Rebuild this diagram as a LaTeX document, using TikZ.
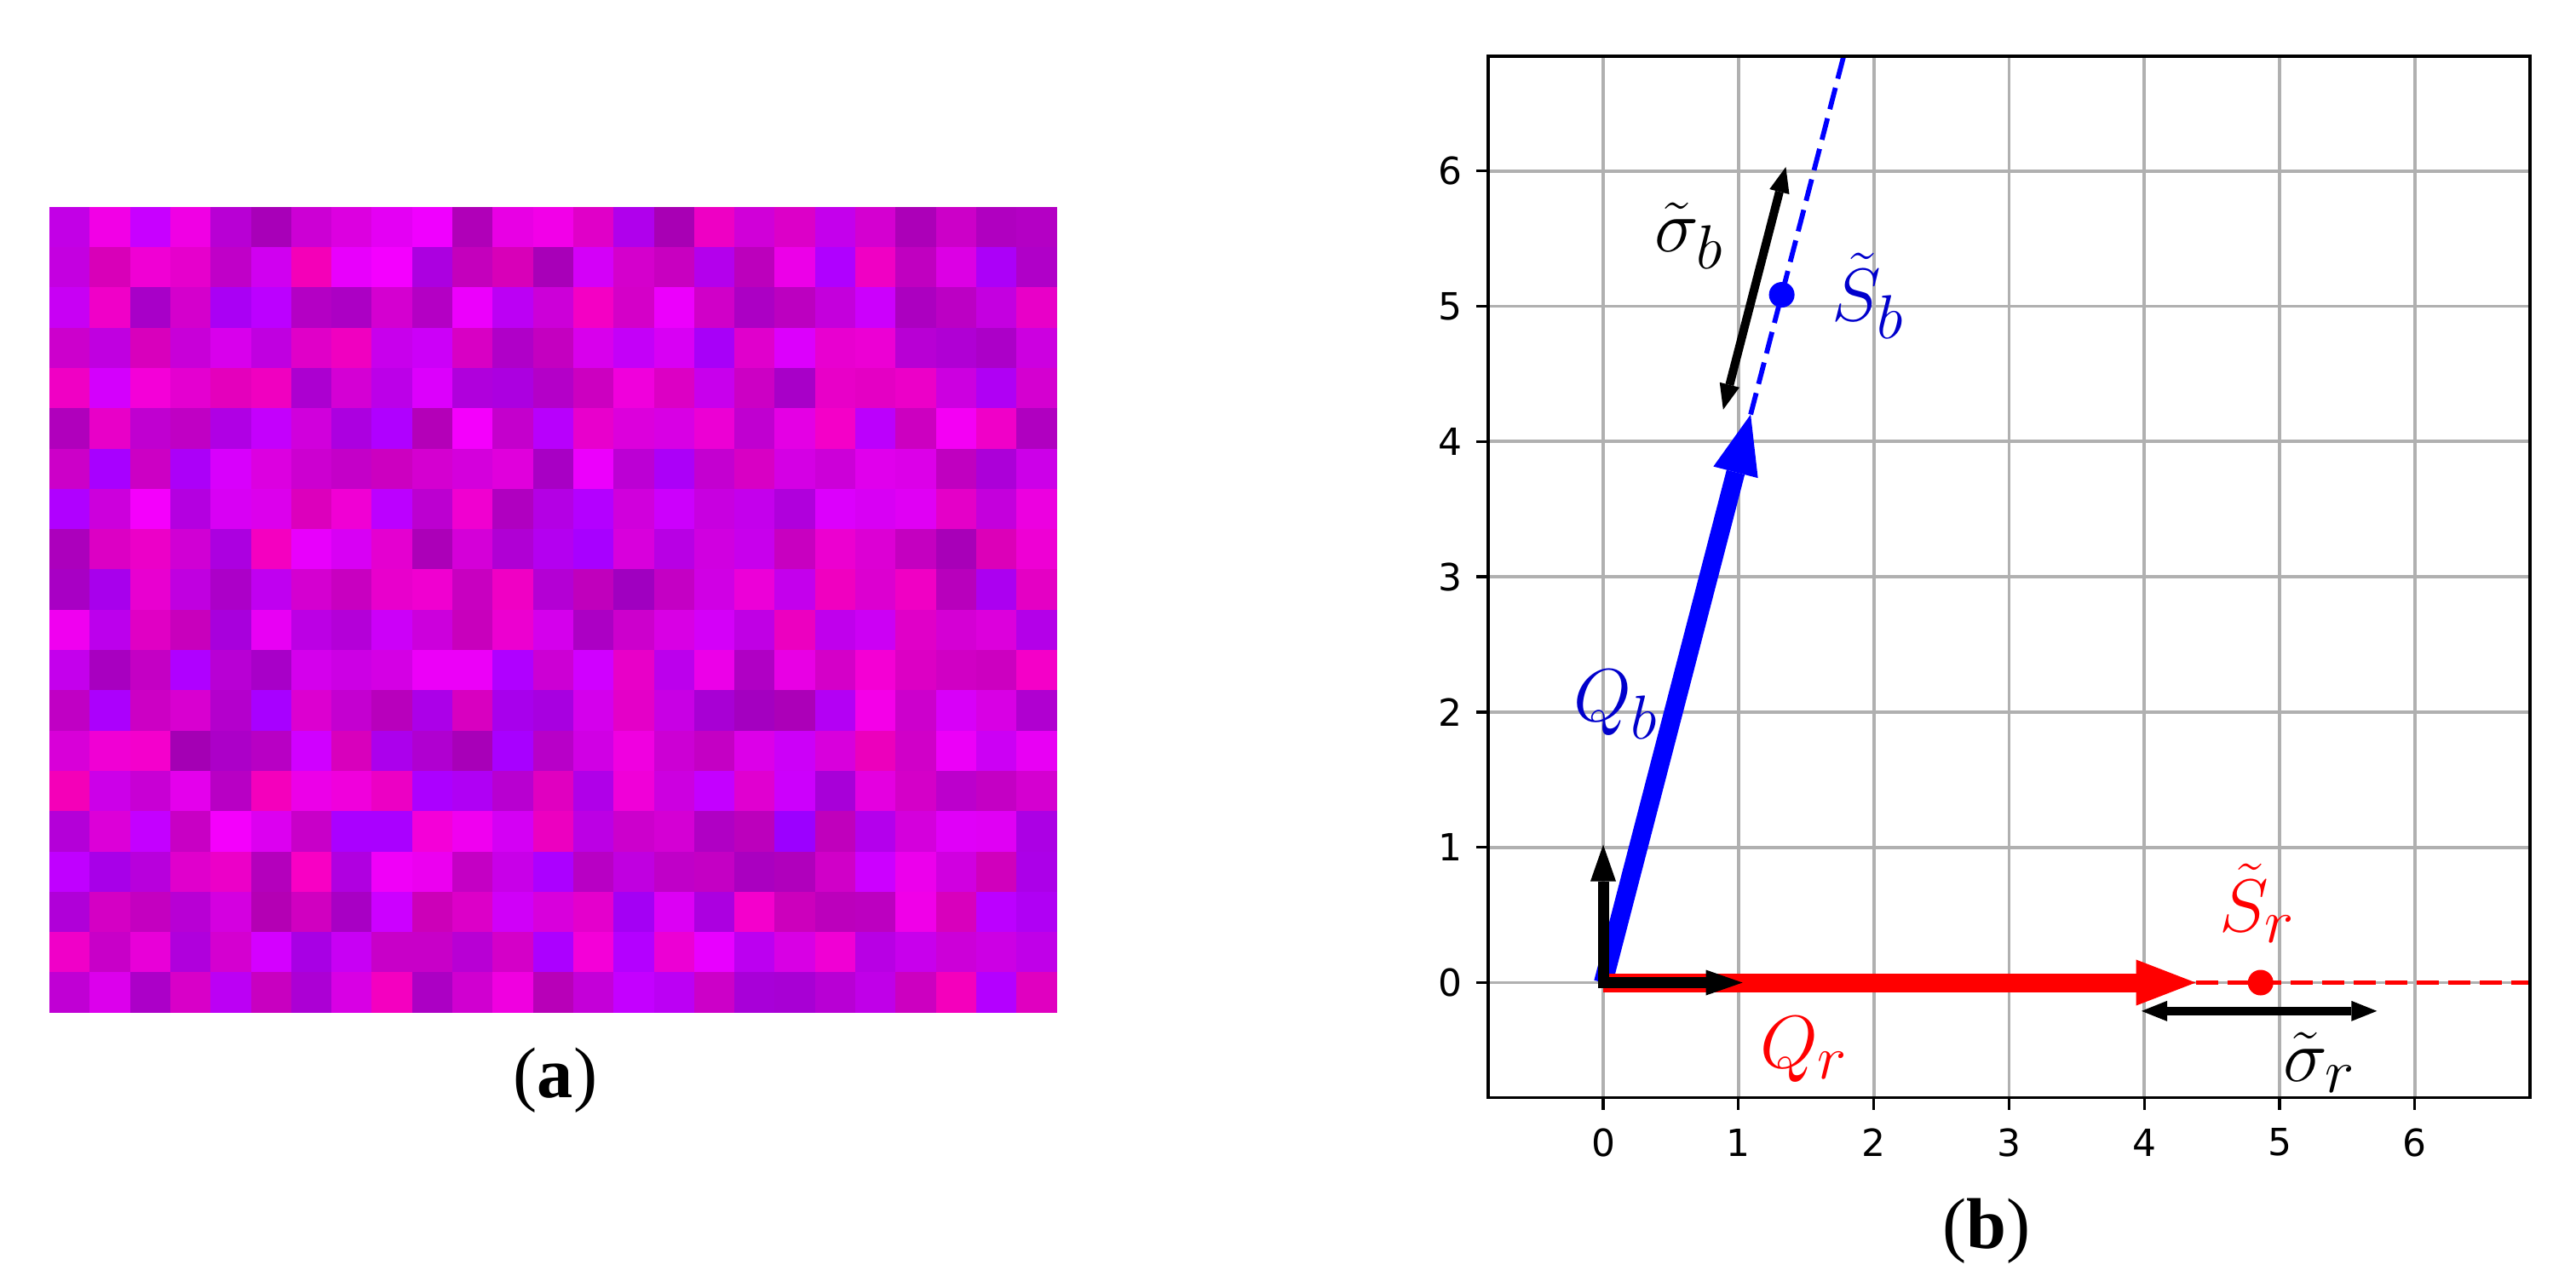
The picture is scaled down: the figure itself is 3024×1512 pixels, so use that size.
\documentclass[tikz,border=0pt]{standalone}
\usepackage{fontspec}
\usetikzlibrary{arrows.meta}
\newfontfamily\tickfont{DejaVu Sans}
\newfontfamily\capfont{Liberation Serif}
\definecolor{gridgray}{HTML}{B0B0B0}
\definecolor{lblue}{HTML}{0000CC}
\definecolor{pblue}{HTML}{0000FF}
\definecolor{pred}{HTML}{FF0000}
\tikzset{
  gridline/.style={gridgray, line width=0.038cm},
  frameline/.style={black, line width=0.035cm},
  tickline/.style={black, line width=0.033cm},
  ticklbl/.style={font=\tickfont\fontsize{12.5}{15}\selectfont, inner sep=0pt},
  mathlbl/.style={font=\fontsize{24.88}{30}\selectfont, inner sep=0pt},
  caplbl/.style={font=\capfont\fontsize{24}{28}\selectfont, inner sep=0pt},
  bigvec/.style={line width=0.22cm, -{Triangle[length=0.70cm,width=0.54cm,line width=0pt]}},
  basisvec/.style={black, line width=0.13cm, -{Triangle[length=0.43cm,width=0.30cm,line width=0pt]}},
  spreadvec/.style={black, line width=0.10cm, {Triangle[length=0.30cm,width=0.24cm,line width=0pt]}-{Triangle[length=0.30cm,width=0.24cm,line width=0pt]}},
  dashln/.style={line width=0.058cm, dash pattern=on 0.26cm off 0.11cm}
}
\begin{document}
\begin{tikzpicture}[x=0.01cm,y=-0.01cm]
\useasboundingbox (0,0) rectangle (3024,1512);
% ---------- panel (a): mosaic ----------
\foreach \rowlist [count=\ri from 0] in {%
{C200E6,F200E6,C800FF,F000E4,B800D4,A800B8,CC00D4,DC00E0,E400F4,F000FF,B000B8,E800E4,F200E8,E000C8,B000EC,A800B4,EE00C4,D000D8,DC00C8,C400EC,D400D0,AC00B8,CC00C8,B000C0,B400C4},%
{C400E0,D800B8,F000D4,E600CC,C000C8,D000F0,F400B8,E800FC,F400FF,AC00E0,C400BC,D800B8,A800B8,D400F8,D400CC,C800C0,B400EC,BC00BC,EC00E8,B000FF,F000C4,C000C0,DC00E4,AC00F8,B000C8},%
{C800F4,F000C8,A800C8,D400CC,AA00F4,BC00FF,B400C4,AC00C4,D400D0,B400C4,EC00FC,BC00F4,CC00D8,F400C4,D400C8,EC00FC,D000C8,AC00C4,BC00C0,C400DC,CC00FC,AC00C0,BC00C4,C400E0,E800C8},%
{CC00CC,C000E0,D800BC,C800D8,D800EC,C000E0,E000C8,F000C0,C800EC,CC00F8,D800C4,B000C8,C400C0,D800EC,C400F8,D800F4,A800F8,E000CC,DC00FC,E800D0,EC00D4,B800D4,B000D4,AC00C8,CC00E0},%
{F000C4,D400FC,F400D8,E400D0,E400BC,F000C0,AC00D0,D400D4,BC00E8,DC00FC,B000DC,AC00E0,B400C8,CC00C0,F000DC,DC00C4,C800EC,CC00C4,A800C8,E800C8,E400C4,EC00C8,CC00E0,B000F4,D400D0},%
{B000BC,E800C8,C000D0,C000C4,B000E4,C400FC,D000DC,AC00E0,B000FF,B400B8,F400FC,C400CC,B800FC,E800CC,DC00DC,D800E4,EC00D4,C000D0,E400E4,F400C8,BC00FC,CC00C0,F400F4,F000C8,B000C0},%
{CC00C8,A800FF,CC00C4,AC00F8,D800FC,DC00E0,CC00D0,C400C8,CC00C0,D400D0,D400DC,E000DC,A800C4,EC00FC,BC00D4,AC00F8,C400D0,D800C4,D400E4,CC00D8,E000EC,DC00E8,C000C0,AC00D8,CC00E8},%
{B000FF,CC00DC,F400FC,B400E0,D800F4,DC00EC,DC00BC,F000D4,BC00FF,BC00D0,F000D0,B000C0,B400E4,B400FF,D000DC,CC00FC,C800E0,C400EC,B000DC,DC00FC,D800F4,E000F4,E400C8,C400DC,EC00E0},%
{AC00BC,DC00C4,EC00C8,D000D4,AC00E0,F400C0,E800FC,D800F4,E400D0,AC00B8,D400D8,B000D4,B400F0,A800FF,D800DC,B800E4,D000E0,C800EC,C800C0,EC00D0,DC00D4,C400C0,A800B8,DC00B8,EE00D4},%
{A800C4,A800EC,E800D0,C000E0,AC00C8,C000F0,D400D0,C800C0,E800CC,F000D0,C800C0,F000C4,B400D4,C000BC,A000C0,C400C4,D000E4,EC00D8,C400EC,F000C0,DC00D0,F000C4,B800BC,AC00F0,E400C4},%
{F000F0,BC00EC,E000C4,C800BC,A800DC,E800F4,BC00E4,B400D8,CC00F8,CC00DC,C800BC,EC00D0,D400EC,AC00C4,CC00CC,D800E4,D400F8,C000E4,EC00C0,C000EC,CC00F4,E000C8,D400D4,DC00DC,B400E8},%
{C400EC,A800C0,C400C4,B000FF,B800D4,A800C8,D400EC,CC00E4,D400E4,EC00F8,EC00F8,B000FF,CC00D4,D000FF,E800C8,BC00EC,EC00E8,B000C4,E800E4,D400C8,F400D4,DC00C4,D000C4,CC00C0,F400C8},%
{C000C4,AC00FC,CC00C4,D800D0,B400CC,A800FF,DC00D0,C400D0,B800BC,AC00E8,D800C0,A800EC,A800E0,D400EC,E400C8,C800E4,A800D4,A400C0,AC00B8,B400F4,F400E8,CC00CC,D800F8,D800E4,B000D0},%
{D800D8,F000D4,F400CC,A400B4,AC00C8,B800C4,D000FF,D800BC,AC00EC,B000D0,A800B8,A800FF,B800C8,D000E4,F000E0,CC00D4,C400C4,DC00E8,CC00F8,D800DC,EC00BC,D000C8,EC00F8,CC00F4,E800F4},%
{F400B8,CC00E8,C800D4,E400EC,B800C4,F400BC,EC00E8,F000DC,EC00C4,AC00FF,B000F4,B800D0,E000C0,B000E8,F000D8,CC00E0,C400FF,E000D0,CC00FC,A800D8,E400E0,D400C8,BC00CC,C400C4,D400D0},%
{B400D8,DC00D8,C400FF,C800C4,F400FC,DC00F0,C800C8,AA00FF,AA00FF,F400D8,F000F0,D400F4,EC00C0,BC00E4,CC00CC,D400D4,B000C4,BC00BC,9C00FF,C000BC,B400EC,D400DC,E000F8,E000F4,AC00E4},%
{C000FF,A800E8,B800DC,E000CC,EC00C8,B400BC,F800C4,B000E0,F000F8,EC00F0,C400C4,C800E8,AC00FF,B800C4,C000E0,C000C8,C400C4,AA00C0,B000BC,D000C8,CC00FF,EC00EC,D000E0,D000BC,AC00E8},%
{B000D8,D400C4,C400C0,B800D4,D400E0,B400B4,D000C0,A800C4,CC00FF,CC00B8,DC00C8,D000F8,D800DC,E400CC,A400F4,DC00F4,AC00E0,F400CC,CC00BC,BC00BC,BC00C0,F000E8,D800BC,BC00FF,B000F4},%
{F000C8,C800C8,E800D8,B000DC,D400D0,D400FF,A800E4,C800F4,C800C8,C800C8,B800D4,D400C8,AC00FF,F400D8,B400FF,EC00D4,E800FF,BC00F0,D800E4,F000D4,B800E4,C800EC,CC00D8,CC00E4,C000E8},%
{C000D4,DC00EC,AC00C8,D800C8,BC00F4,C800C0,AC00D4,D800E4,F400C0,AC00C4,D000D0,F000E0,B800B8,C400D8,C400FF,BC00F4,CC00C8,A800D8,A800D4,B800D4,C000E8,CC00C0,F400BC,B400FF,E000C0}%
}{%
  \foreach \hx [count=\ci from 0] in \rowlist {%
    \edef\tmpdef{\noexpand\definecolor{cellc}{HTML}{\hx}}\tmpdef
    \fill[cellc] ({58+47.3*\ci},{242.7+47.3*\ri}) rectangle ++(47.8,47.8);
  }%
}
\node[caplbl] (capa) at (652,1268) {(\textbf{a})};
% ---------- panel (b): vector plot ----------
\begin{scope}[shift={(1882,1153.5)},x=1.587cm,y=1.587cm]
  \foreach \v in {0,...,6} {
    \draw[gridline] (\v,-0.85) -- (\v,6.85);
    \draw[gridline] (-0.85,\v) -- (6.85,\v);
  }
  \coordinate (O) at (0,0);
  \coordinate (Qb) at (1.09,4.2);
  \coordinate (QbFar) at (1.884,7.26);
  \coordinate (Qr) at (4.38,0);
  \coordinate (QrFar) at (7.0,0);
  \coordinate (Ex) at (1.03,0);
  \coordinate (Ey) at (0,1.02);
  \coordinate (Sb) at (1.320,5.085);
  \coordinate (Sr) at (4.86,0);
  \coordinate (sbA) at (0.887,4.236);
  \coordinate (sbB) at (1.350,6.030);
  \coordinate (srA) at (3.98,-0.21);
  \coordinate (srB) at (5.72,-0.21);
  \begin{scope}
    \clip (-0.85,-0.85) rectangle (6.85,6.85);
    \draw[pblue, dashln] (Qb) -- (QbFar);
    \draw[pred, dashln] (Qr) -- (QrFar);
  \end{scope}
  \draw[pblue, bigvec] (O) -- (Qb);
  \draw[pred, bigvec] (O) -- (Qr);
  \draw[basisvec] (O) -- (Ey);
  \draw[basisvec] (O) -- (Ex);
  \fill[black] (O) ++(-0.065cm,-0.065cm) rectangle ++(0.13cm,0.13cm);
  \fill[pblue] (Sb) circle[radius=0.15cm];
  \fill[pred] (Sr) circle[radius=0.15cm];
  \draw[spreadvec] (sbA) -- (sbB);
  \draw[spreadvec] (srA) -- (srB);
  \draw[frameline] (-0.85,-0.85) rectangle (6.85,6.85);
  \foreach \v in {0,...,6} {
    \draw[tickline] (\v,-0.85) -- ++(0,-0.14cm);
    \draw[tickline] (-0.85,\v) -- ++(-0.14cm,0);
    \node[ticklbl] (xt\v) at (\v,-1.181) {\v};
    \node[ticklbl, anchor=east] (yt\v) at (-1.04,\v) {\v};
  }
\end{scope}
\node[mathlbl, text=lblue] (QbL) at (1897,827) {$Q_b$};
\node[mathlbl, text=lblue] (SbL) at (2193,347) {$\tilde{S}_b$};
\node[mathlbl] (sbL) at (1983,277) {$\tilde{\sigma}_b$};
\node[mathlbl, text=pred] (SrL) at (2650,1060) {$\tilde{S}_r$};
\node[mathlbl, text=pred] (QrL) at (2118,1232) {$Q_r$};
\node[mathlbl] (srL) at (2723,1247) {$\tilde{\sigma}_r$};
\node[caplbl] (capb) at (2332,1445) {(\textbf{b})};
\end{tikzpicture}
\end{document}
